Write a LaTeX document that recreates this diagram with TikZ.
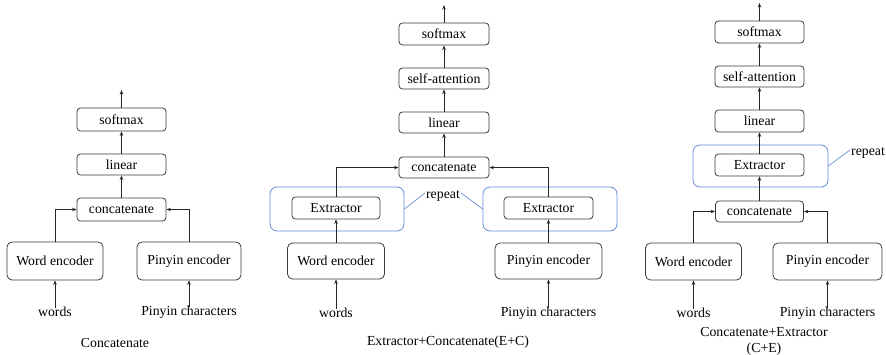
\documentclass[tikz,border=0pt]{standalone}
\usepackage{fontspec}
\setmainfont{Liberation Serif}
\usetikzlibrary{arrows.meta}
\definecolor{boxline}{RGB}{60,60,60}
\definecolor{repblue}{RGB}{100,140,215}
\tikzset{
  box/.style={draw=boxline, line width=0.8pt, rounded corners=3.5pt, inner sep=0pt, font=\fontsize{13.8}{16}\selectfont},
  bigbox/.style={box, rounded corners=5pt},
  repbox/.style={draw=repblue, line width=0.8pt, rounded corners=7pt, inner sep=0pt},
  lbl/.style={inner sep=1pt, font=\fontsize{13.8}{16}\selectfont},
  arr/.style={draw=black!85, line width=0.8pt, -{Stealth[length=4.5pt,width=3.5pt]}},
  repline/.style={draw=repblue, line width=0.7pt},
}
\begin{document}
\begin{tikzpicture}[x=1pt,y=-1pt]
\useasboundingbox (0,0) rectangle (886,355);
% ---------------- Panel 1 ----------------
\node[box, minimum width=89pt, minimum height=23pt] (soft1) at (121.5,119.5) {softmax};
\node[box, minimum width=89pt, minimum height=21pt] (lin1) at (121.5,164.5) {linear};
\node[box, minimum width=89pt, minimum height=23pt] (cat1) at (121.5,209.5) {concatenate};
\node[bigbox, minimum width=96pt, minimum height=38pt] (we1) at (55,261) {Word encoder};
\node[bigbox, minimum width=104pt, minimum height=38pt] (pe1) at (189,261) {Pinyin encoder};
\node[lbl] (w1) at (55,312) {words};
\node[lbl] (pc1) at (189,312) {Pinyin characters};
\node[lbl] (cap1) at (115,343) {Concatenate};
\coordinate (top1) at (121.5,90);
\draw[arr] ([yshift=-2pt]w1.north) -- (we1.south);
\draw[arr] ([yshift=-2pt]pc1.north) -- (pe1.south);
\draw[arr] (we1.north) |- (cat1.west);
\draw[arr] (pe1.north) |- (cat1.east);
\draw[arr] (cat1.north) -- (lin1.south);
\draw[arr] (lin1.north) -- (soft1.south);
\draw[arr] (soft1.north) -- (top1);
% ---------------- Panel 2 ----------------
\node[box, minimum width=90pt, minimum height=22pt] (soft2) at (444,34) {softmax};
\node[box, minimum width=90pt, minimum height=21pt] (sa2) at (444,78.5) {self-attention};
\node[box, minimum width=90pt, minimum height=21pt] (lin2) at (444,122.5) {linear};
\node[box, minimum width=90pt, minimum height=21pt] (cat2) at (444,167.5) {concatenate};
\node[repbox, minimum width=134pt, minimum height=44pt] (rep2l) at (337,209) {};
\node[repbox, minimum width=134pt, minimum height=44pt] (rep2r) at (550,209) {};
\node[box, minimum width=88pt, minimum height=22pt] (ext2l) at (336,208) {Extractor};
\node[box, minimum width=89pt, minimum height=22pt] (ext2r) at (548.5,208) {Extractor};
\node[bigbox, minimum width=97pt, minimum height=36pt] (we2) at (336,261) {Word encoder};
\node[bigbox, minimum width=107pt, minimum height=36pt] (pe2) at (548.5,261) {Pinyin encoder};
\node[lbl] (w2) at (336,313) {words};
\node[lbl] (pc2) at (548.5,313) {Pinyin characters};
\node[lbl] (rpt2) at (443,196) {repeat};
\node[lbl] (cap2) at (448,342) {Extractor+Concatenate(E+C)};
\coordinate (top2) at (444,5);
\draw[repline] (rep2l.east) -- ([yshift=3pt]rpt2.west);
\draw[repline] (rep2r.west) -- ([yshift=3pt]rpt2.east);
\draw[arr] ([yshift=-2pt]w2.north) -- (we2.south);
\draw[arr] ([yshift=-2pt]pc2.north) -- (pe2.south);
\draw[arr] (we2.north) -- (ext2l.south);
\draw[arr] (pe2.north) -- (ext2r.south);
\draw[arr] (ext2l.north) |- (cat2.west);
\draw[arr] (ext2r.north) |- (cat2.east);
\draw[arr] (cat2.north) -- (lin2.south);
\draw[arr] (lin2.north) -- (sa2.south);
\draw[arr] (sa2.north) -- (soft2.south);
\draw[arr] (soft2.north) -- (top2);
% ---------------- Panel 3 ----------------
\node[box, minimum width=89pt, minimum height=22pt] (soft3) at (759.5,32) {softmax};
\node[box, minimum width=89pt, minimum height=21pt] (sa3) at (759.5,76.5) {self-attention};
\node[box, minimum width=89pt, minimum height=22pt] (lin3) at (759.5,121) {linear};
\node[repbox, minimum width=135pt, minimum height=42pt] (rep3) at (760.5,166) {};
\node[box, minimum width=89pt, minimum height=22pt] (ext3) at (759.5,165) {Extractor};
\node[box, minimum width=88pt, minimum height=21pt] (cat3) at (759.5,211.5) {concatenate};
\node[bigbox, minimum width=96pt, minimum height=37pt] (we3) at (693.5,261.5) {Word encoder};
\node[bigbox, minimum width=109pt, minimum height=37pt] (pe3) at (827.5,261.5) {Pinyin encoder};
\node[lbl] (w3) at (693.5,313) {words};
\node[lbl] (pc3) at (827.5,313) {Pinyin characters};
\node[lbl] (rpt3) at (868,153) {repeat};
\node[lbl, align=center, font=\fontsize{13.8}{16}\selectfont] (cap3) at (764,341) {Concatenate+Extractor\\(C+E)};
\coordinate (top3) at (759.5,3);
\draw[repline] (rep3.east) -- ([yshift=3pt]rpt3.west);
\draw[arr] ([yshift=-2pt]w3.north) -- (we3.south);
\draw[arr] ([yshift=-2pt]pc3.north) -- (pe3.south);
\draw[arr] (we3.north) |- (cat3.west);
\draw[arr] (pe3.north) |- (cat3.east);
\draw[arr] (cat3.north) -- (ext3.south);
\draw[arr] (ext3.north) -- (lin3.south);
\draw[arr] (lin3.north) -- (sa3.south);
\draw[arr] (sa3.north) -- (soft3.south);
\draw[arr] (soft3.north) -- (top3);
\end{tikzpicture}
\end{document}
